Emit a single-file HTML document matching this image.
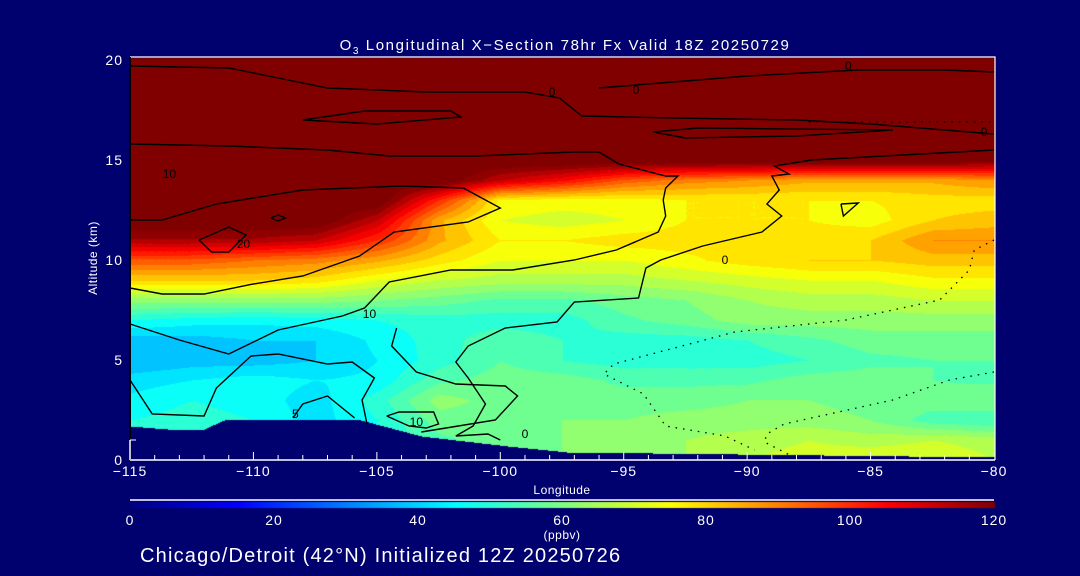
<!DOCTYPE html>
<html><head><meta charset="utf-8">
<style>
html,body{margin:0;padding:0;background:#00006f;}
#wrap{position:relative;width:1080px;height:576px;background:#00006f;overflow:hidden;font-family:"Liberation Sans",sans-serif;color:#fff;}
canvas{position:absolute;left:0;top:0;}
svg{position:absolute;left:0;top:0;}
</style></head>
<body>
<div id="wrap">
<canvas id="cv" width="1080" height="576"></canvas>
<svg id="sv" width="1080" height="576"></svg>
</div>
<script>
// ---- data ----
const lons = [-115,-112.5,-110,-107.5,-105,-102.5,-100,-97.5,-95,-92.5,-90,-87.5,-85,-82.5,-80];
const alts = [0,1,2,3,4,5,6,7,8,9,10,11,12,13,14,15,16,17,18,19,20];
const o3 = [
 [48,48,48,48,48,55,58,60,62,64,68,70,72,72,68],
 [48,48,48,48,48,55,58,60,62,64,66,68,66,68,66],
 [48,50,48,42,48,58,58,60,60,62,62,62,60,54,52],
 [45,48,46,42,50,62,58,58,58,58,60,60,58,58,60],
 [42,44,46,44,45,55,58,58,55,55,55,58,58,56,55],
 [36,38,38,40,44,50,56,52,50,50,50,52,55,56,56],
 [38,38,40,40,45,50,55,52,50,50,52,55,58,58,58],
 [48,46,45,46,48,50,50,50,55,58,62,62,62,62,62],
 [62,62,62,62,60,58,55,55,58,60,64,66,66,68,68],
 [80,80,80,78,72,68,66,66,66,68,70,72,72,75,75],
 [95,95,92,90,85,78,72,72,72,75,78,80,80,82,82],
 [115,115,115,112,100,85,76,76,78,78,76,78,80,88,88],
 [125,125,125,125,112,85,72,70,72,76,76,76,74,80,82],
 [125,125,125,125,125,100,75,74,74,76,76,76,76,78,78],
 [125,125,125,125,125,125,112,105,95,90,88,85,85,85,88],
 [125,125,125,125,125,125,125,125,125,125,125,125,125,125,122],
 [125,125,125,125,125,125,125,125,125,125,125,125,125,125,125],
 [125,125,125,125,125,125,125,125,125,125,125,125,125,125,125],
 [125,125,125,125,125,125,125,125,125,125,125,125,125,125,125],
 [125,125,125,125,125,125,125,125,125,125,125,125,125,125,125],
 [125,125,125,125,125,125,125,125,125,125,125,125,125,125,125]
];
const terrainLon = [-115,-113.5,-112,-111.1,-105.8,-103.2,-99.7,-97.3,-80];
const terrainAlt = [1.7,1.55,1.55,2.05,2.05,1.2,0.7,0.4,0.15];
const xTicks = [-115,-110,-105,-100,-95,-90,-85,-80];
const yTicks = [0,5,10,15,20];
const cbTicks = [0,20,40,60,80,100,120];
const contours = [
 [[-115,15.8],[-111,15.7],[-107,15.5],[-104.5,15.2],[-101,15.2],[-97,15.4],[-96,15.4],[-95.2,14.8],[-93.3,14.2],[-92.8,14.2],[-93.3,13.6],[-93.4,13.0],[-93.3,12.2],[-93.6,11.4],[-95.3,10.5],[-97,10.0],[-99.5,9.5],[-102,9.5],[-104.5,8.9],[-105.5,7.6],[-106.4,7.2],[-109,6.5],[-111,5.3],[-113,6.0],[-115,6.8]],
 [[-115,19.7],[-111,19.6],[-109,19.1],[-107,18.6],[-103,18.4],[-99,18.4],[-97.6,18.1],[-96.7,17.2],[-93,17.1],[-88,17.0],[-85,16.8],[-82,16.5],[-80,16.3]],
 [[-96,18.6],[-93,18.9],[-90,19.2],[-85.5,19.5],[-82,19.5],[-80,19.4]],
 [[-108,17.0],[-105.5,17.45],[-102,17.45],[-101.6,17.15],[-105,16.8],[-108,17.0]],
 [[-93.8,16.4],[-92,16.6],[-84.1,16.5],[-88,16.2],[-92.5,16.1],[-93.8,16.4]],
 [[-115,12.0],[-113.7,12.0],[-111.5,12.8],[-108,13.5],[-104,13.7],[-101.5,13.6],[-100,12.6],[-101.3,11.9],[-104.3,11.4],[-105.7,10.2],[-108,9.2],[-110,8.8],[-112,8.3],[-113.7,8.3],[-115,8.6]],
 [[-80,15.5],[-87.4,15.0],[-88.9,14.7],[-88.3,14.3],[-89.0,14.2],[-88.7,13.5],[-89.2,12.8],[-88.6,12.2],[-89.4,11.4],[-91.8,10.7],[-93.5,10.0],[-94.1,9.6],[-94.4,8.1],[-97,7.9],[-97.7,6.9],[-99.8,6.6],[-101.3,5.7],[-101.8,4.9],[-101.3,4.1],[-100.6,2.8],[-101.1,1.7],[-101.8,1.2],[-100.5,1.3],[-100,1.0]],
 [[-115,4.0],[-114.1,2.3],[-112,2.2],[-111.5,3.6],[-110.1,5.2],[-109,5.3],[-107,4.8],[-106,4.9],[-105.1,4.1],[-105.6,3.0],[-105.4,1.8]],
 [[-104.2,6.6],[-104.4,5.7],[-103.4,4.4],[-101.8,3.8],[-99.8,3.7],[-99.3,3.2],[-100.2,2.0],[-102.7,1.5],[-103.2,1.4]],
 [[-104.6,2.2],[-104.1,2.4],[-102.7,2.4],[-102.5,1.8],[-103,1.6],[-103.7,1.7],[-104.6,2.2]],
 [[-108.4,2.1],[-108,2.8],[-107,3.2],[-105.9,2.1]],
 [[-112.2,11.0],[-111,11.65],[-110.3,11.25],[-111,10.4],[-111.7,10.4],[-112.2,11.0]],
 [[-86.2,12.8],[-85.5,12.85],[-86.1,12.2],[-86.2,12.8]],
 [[-109.3,12.1],[-109,12.25],[-108.7,12.1],[-109,11.95],[-109.3,12.1]]
];
const dotted = [
 [[-80,11.0],[-80.8,10.5],[-81,9.5],[-82.2,8.0],[-86,7.0],[-90.5,6.4],[-95.4,4.8],[-95.8,4.3],[-94.2,3.3],[-93.3,1.7],[-90.9,1.2],[-89.7,0.5]],
 [[-80,4.4],[-81.8,4.0],[-84.1,3.0],[-88.5,1.8],[-89.2,1.3],[-89.3,0.9],[-88.2,0.2]],
 [[-87.5,16.9],[-80,16.9]]
];
const labels = [["0",-97.9,18.4],["10",-113.4,14.3],["20",-110.4,10.8],["10",-105.3,7.3],["5",-108.3,2.3],["10",-103.4,1.9],["0",-99,1.3],["0",-85.9,19.7],["0",-94.5,18.5],["0",-80.4,16.4],["0",-90.9,10.0]];

// ---- scales ----
const X0=130,X1=994,Y0=460,Y1=60;
const xs = lon => X0 + (lon+115)/35*(X1-X0);
const ys = a => Y0 - a/20*(Y0-Y1);
function jet(v){
  let t=Math.max(0,Math.min(1,v/120));
  const st=[[0,0,0,128],[0.125,0,0,255],[0.375,0,255,255],[0.5,128,255,128],[0.625,255,255,0],[0.875,255,0,0],[1,128,0,0]];
  for(let i=1;i<st.length;i++){ if(t<=st[i][0]){const a=st[i-1],b=st[i];const f=(t-a[0])/(b[0]-a[0]);
    return [a[1]+f*(b[1]-a[1]),a[2]+f*(b[2]-a[2]),a[3]+f*(b[3]-a[3])];}}
  return [128,0,0];
}
function interp(arrX,arrY,x){ for(let i=1;i<arrX.length;i++){ if(x<=arrX[i]){const f=(x-arrX[i-1])/(arrX[i]-arrX[i-1]);return arrY[i-1]+f*(arrY[i]-arrY[i-1]);}} return arrY[arrY.length-1]; }
function field(lon,a){
  let fi=(lon-lons[0])/(lons[1]-lons[0]); fi=Math.max(0,Math.min(lons.length-1.001,fi));
  let fj=a; fj=Math.max(0,Math.min(alts.length-1.001,fj));
  const i=Math.floor(fi),j=Math.floor(fj),u=fi-i,w=fj-j;
  return o3[j][i]*(1-u)*(1-w)+o3[j][i+1]*u*(1-w)+o3[j+1][i]*(1-u)*w+o3[j+1][i+1]*u*w;
}
const cv=document.getElementById('cv'),ctx=cv.getContext('2d');
ctx.fillStyle='#00006f';ctx.fillRect(0,0,1080,576);
const img=ctx.getImageData(0,0,1080,576);
for(let px=X0;px<=X1;px++){
  const lon=-115+(px-X0)/(X1-X0)*35;
  const ter=interp(terrainLon,terrainAlt,lon);
  for(let py=58;py<Y0;py++){
    const a=(Y0-py)/(Y0-Y1)*20;
    if(a<ter) continue;
    let v=field(lon,a); v=Math.floor(v/4)*4+2;
    const c=jet(v); const k=(py*1080+px)*4;
    img.data[k]=c[0];img.data[k+1]=c[1];img.data[k+2]=c[2];img.data[k+3]=255;
  }
}
for(let px=X0;px<=X1;px++){ const c=jet((px-X0)/(X1-X0)*120);
  for(let py=502;py<508;py++){const k=(py*1080+px)*4;img.data[k]=c[0];img.data[k+1]=c[1];img.data[k+2]=c[2];img.data[k+3]=255;}}
ctx.putImageData(img,0,0);

const sv=document.getElementById('sv');const NS='http://www.w3.org/2000/svg';
function mk(tag,attrs,parent){const e=document.createElementNS(NS,tag);for(const k in attrs)e.setAttribute(k,attrs[k]);(parent||sv).appendChild(e);return e;}
function txt(s,x,y,size,anchor,name,ls){const e=mk('text',{x:x,y:y,fill:'#fff','font-size':size,'text-anchor':anchor||'middle','font-family':'Liberation Sans, sans-serif','letter-spacing':ls||0});e.textContent=s;


return e;}

contours.forEach((c,ci)=>{const p=mk('polyline',{points:c.map(q=>xs(q[0])+','+ys(q[1])).join(' '),fill:'none',stroke:'#000','stroke-width':1.4});

});
dotted.forEach(c=>{const p=mk('polyline',{points:c.map(q=>xs(q[0])+','+ys(q[1])).join(' '),fill:'none',stroke:'#000','stroke-width':1.3,'stroke-dasharray':'1.5 6'});

});
labels.forEach(l=>{const t=mk('text',{x:xs(l[1]),y:ys(l[2])+4,fill:'#000','font-size':12,'text-anchor':'middle','font-family':'Liberation Sans, sans-serif'});t.textContent=l[0];

});

let f=mk('polyline',{points:`${X0},57 ${X1+1},57 ${X1+1},${Y0}`,fill:'none',stroke:'#fff','stroke-width':1.2});


let ax=mk('line',{x1:X0,y1:Y0,x2:X1+1,y2:Y0,stroke:'#fff','stroke-width':1.5});


let ay=mk('line',{x1:X0,y1:57,x2:X0,y2:Y0,stroke:'#000','stroke-width':2});


mk('line',{x1:X0,y1:ys(1),x2:X0,y2:Y0,stroke:'#fff','stroke-width':1.5});
mk('line',{x1:X0,y1:ys(1),x2:X0+6,y2:ys(1),stroke:'#fff','stroke-width':1});
for(let l=-114;l<-80;l++){ const major=l%5===0; const t=mk('line',{x1:xs(l),y1:Y0,x2:xs(l),y2:Y0-(major?8:5),stroke:'#fff','stroke-width':1});

}
xTicks.forEach(v=>txt('\u2212'+Math.abs(v),xs(v),476,14,'middle','x-tick-label',1));
yTicks.forEach(v=>txt(String(v),123,ys(v)+5,14,'end','y-tick-label',1));
let yt=txt('Altitude (km)',0,0,12,'middle','y-axis-title',0.5);yt.setAttribute('transform','translate(97,258) rotate(-90)');
txt('Longitude',562,494,12,'middle','x-axis-title',0.5);
let tt=mk('text',{x:565,y:50,fill:'#fff','font-size':15,'text-anchor':'middle','font-family':'Liberation Sans, sans-serif','letter-spacing':1.6});


tt.innerHTML='O<tspan font-size="10" dy="4">3</tspan><tspan dy="-4"> Longitudinal X\u2212Section 78hr  Fx Valid 18Z 20250729</tspan>';
let cbl=mk('line',{x1:X0,y1:500,x2:X1,y2:500,stroke:'#fff','stroke-width':1.5});


cbTicks.forEach(v=>txt(String(v),X0+(v/120)*(X1-X0),525,14,'middle','colorbar-tick-label',1));
txt('(ppbv)',562,539,12,'middle','colorbar-units',0.5);
txt('Chicago/Detroit (42\u00b0N) Initialized 12Z 20250726',140,562,20,'start','init-caption',1.2);
</script>
</body></html>
